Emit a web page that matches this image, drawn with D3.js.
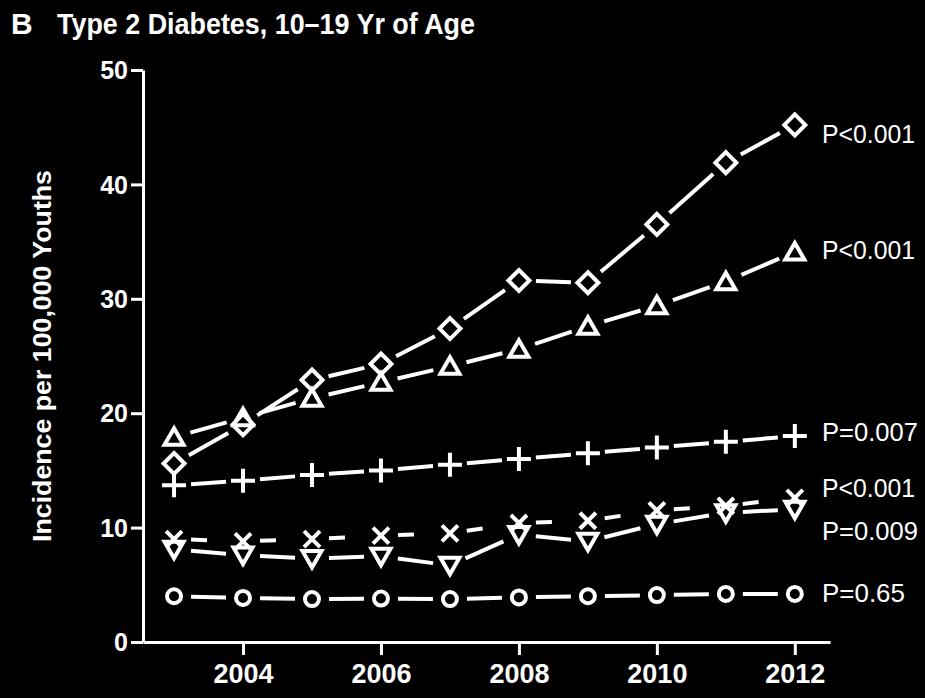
<!DOCTYPE html>
<html><head><meta charset="utf-8">
<script src="https://cdn.jsdelivr.net/npm/d3@7"></script>
<style>html,body{margin:0;padding:0;background:#000;}svg{display:block;}</style>
</head><body>
<script>
const years = [2003,2004,2005,2006,2007,2008,2009,2010,2011,2012];
const diamondSeries  = [15.6,19.0,22.9,24.3,27.4,31.6,31.4,36.5,41.9,45.2];
const triangleSeries = [17.9,19.6,21.3,22.7,24.1,25.6,27.6,29.4,31.5,34.1];
const plusSeries     = [13.7,14.1,14.6,15.0,15.5,16.0,16.5,17.0,17.5,18.0];
const crossSeries    = [9.0,8.8,9.0,9.3,9.5,10.4,10.6,11.5,11.9,12.6];
const downSeries     = [8.1,7.6,7.3,7.5,6.7,9.4,8.8,10.3,11.3,11.6];
const circleSeries   = [4.0,3.85,3.75,3.8,3.75,3.9,4.0,4.1,4.2,4.2];
const pLabels = ["P<0.001","P<0.001","P=0.007","P<0.001","P=0.009","P=0.65"];
const pLabelAt = [44.4,34.3,18.4,13.5,9.7,4.3];
const yTicks = [0,10,20,30,40,50];
const xTicks = [2004,2006,2008,2010,2012];
const titleLetter = "B";
const titleText = "Type 2 Diabetes, 10\u201319 Yr of Age";
const yTitle = "Incidence per 100,000 Youths";

const W = 925, H = 698;
const svg = d3.select("body").append("svg").attr("width", W).attr("height", H)
  .style("background", "#000");
svg.append("rect").attr("width", W).attr("height", H).attr("fill", "#000");

const x = d3.scaleLinear().domain([2002.55, 2012.51]).range([143, 830]);
const y = d3.scaleLinear().domain([0, 50]).range([642, 70]);

// axes
const yAxis = svg.append("g").attr("transform", "translate(143,0)")
  .call(d3.axisLeft(y).tickValues(yTicks).tickSize(12).tickPadding(3).tickSizeOuter(0));
const xAxis = svg.append("g").attr("transform", "translate(0,642)")
  .call(d3.axisBottom(x).tickValues(xTicks).tickSize(13).tickPadding(4).tickFormat(d3.format("d")).tickSizeOuter(0));
[yAxis, xAxis].forEach(g => {
  g.select(".domain").attr("stroke", "#fff").attr("stroke-width", 3);
  g.selectAll(".tick line").attr("stroke", "#fff").attr("stroke-width", 3);
  g.selectAll(".tick text").attr("fill", "#fff").attr("font-family", "Liberation Sans, Arial, sans-serif")
    .attr("font-weight", "bold");
});
yAxis.selectAll(".tick text").attr("font-size", 25).attr("dy", "0.35em");
xAxis.selectAll(".tick text").attr("font-size", 27).attr("dy", "0.9em");

// titles
svg.append("text").attr("x", 11).attr("y", 34).text(titleLetter)
  .attr("fill", "#fff").attr("font-family", "Liberation Sans, Arial, sans-serif")
  .attr("font-weight", "bold").attr("font-size", 30);
svg.append("text").attr("x", 57).attr("y", 34).text(titleText)
  .attr("fill", "#fff").attr("font-family", "Liberation Sans, Arial, sans-serif")
  .attr("font-weight", "bold").attr("font-size", 30)
  .attr("textLength", 418).attr("lengthAdjust", "spacingAndGlyphs");
svg.append("text").attr("transform", "translate(51,356) rotate(-90)")
  .attr("text-anchor", "middle").text(yTitle)
  .attr("fill", "#fff").attr("font-family", "Liberation Sans, Arial, sans-serif")
  .attr("font-weight", "bold").attr("font-size", 26)
  .attr("textLength", 372).attr("lengthAdjust", "spacingAndGlyphs");

// marker shapes
const shapes = {
  diamond: "M0,-10.5L10.5,0L0,10.5L-10.5,0Z",
  triangle: "M0,-9L9.5,7.5L-9.5,7.5Z",
  plus: "M-12,0L12,0M0,-12L0,12",
  cross: "M-8,-8L8,8M8,-8L-8,8",
  down: "M0,9L9.5,-7.5L-9.5,-7.5Z",
  circle: "M7,0A7,7 0 1,1 -7,0A7,7 0 1,1 7,0Z"
};
const series = [
  {vals: circleSeries, shape: "circle", dash: null},
  {vals: downSeries, shape: "down", dash: null},
  {vals: crossSeries, shape: "cross", dash: "16,24"},
  {vals: plusSeries, shape: "plus", dash: null},
  {vals: triangleSeries, shape: "triangle", dash: null},
  {vals: diamondSeries, shape: "diamond", dash: null}
];
const gap = 17;
series.forEach(s => {
  const pts = years.map((yr, i) => [x(yr), y(s.vals[i])]);
  const g = svg.append("g");
  for (let i = 0; i < pts.length - 1; i++) {
    const [x1, y1] = pts[i], [x2, y2] = pts[i + 1];
    const dx = x2 - x1, dy = y2 - y1, L = Math.hypot(dx, dy);
    const ux = dx / L, uy = dy / L;
    g.append("line")
      .attr("x1", x1 + ux * gap).attr("y1", y1 + uy * gap)
      .attr("x2", x2 - ux * gap).attr("y2", y2 - uy * gap)
      .attr("stroke", "#fff").attr("stroke-width", 4)
      .attr("stroke-dasharray", s.dash);
  }
  g.selectAll("path").data(pts).join("path")
    .attr("transform", d => `translate(${d[0]},${d[1]})`)
    .attr("d", shapes[s.shape])
    .attr("fill", "none").attr("stroke", "#fff").attr("stroke-width", 4)
    .attr("stroke-linejoin", "miter");
});

// p-value labels
svg.selectAll("text.pl").data(pLabels).join("text").attr("class", "pl")
  .attr("x", 822).attr("y", (d, i) => y(pLabelAt[i]))
  .attr("dy", "0.36em").text(d => d)
  .attr("fill", "#fff").attr("font-family", "Liberation Sans, Arial, sans-serif")
  .attr("font-size", 25)
  .attr("textLength", d => d.length === 6 ? 83 : (d.includes("<") ? 93 : 96))
  .attr("lengthAdjust", "spacingAndGlyphs");
</script>
</body></html>
